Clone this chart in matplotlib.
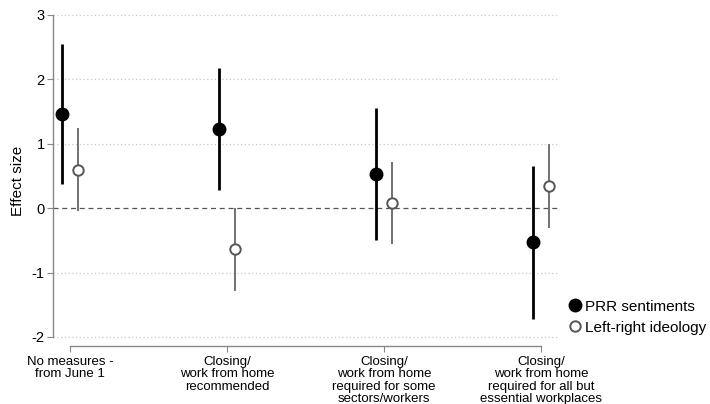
import matplotlib.pyplot as plt
import numpy as np

plt.rcParams["font.family"] = ["Liberation Sans", "DejaVu Sans"]

categories = [
    "No measures -\nfrom June 1",
    "Closing/\nwork from home\nrecommended",
    "Closing/\nwork from home\nrequired for some\nsectors/workers",
    "Closing/\nwork from home\nrequired for all but\nessential workplaces",
]

prr_est = [1.46, 1.23, 0.53, -0.53]
prr_low = [0.37, 0.28, -0.49, -1.72]
prr_high = [2.55, 2.17, 1.56, 0.66]

lr_est = [0.59, -0.64, 0.08, 0.34]
lr_low = [-0.04, -1.28, -0.55, -0.31]
lr_high = [1.24, 0.01, 0.71, 0.99]

x = np.arange(1, len(categories) + 1)
offset = 0.05

fig = plt.figure(figsize=(7.1, 4.04), dpi=100)
ax = fig.add_axes([0.0746, 0.1436, 0.7114, 0.8194])

# gridlines
for yv in [-2, -1, 1, 2, 3]:
    ax.axhline(yv, color="#c8c8c8", lw=0.9, ls=(0, (1, 2)), zorder=0)
ax.axhline(0, color="#555555", lw=0.9, ls=(0, (4, 3)), zorder=1)

# confidence intervals
ax.vlines(x - offset, prr_low, prr_high, color="black", lw=2.0, zorder=2)
ax.vlines(x + offset, lr_low, lr_high, color="#666666", lw=1.3, zorder=2)

ax.plot(x - offset, prr_est, "o", ms=9, color="black", mec="black",
        ls="none", zorder=3, label="PRR sentiments")
ax.plot(x + offset, lr_est, "o", ms=7.5, mfc="white", mec="#555555",
        mew=1.4, ls="none", zorder=3, label="Left-right ideology")

ax.set_xlim(1 - 17 / 157, 4 + 17 / 157)
ax.set_ylim(-2.14, 3)

ax.spines["top"].set_visible(False)
ax.spines["right"].set_visible(False)
ax.spines["left"].set_bounds(-2, 3)
ax.spines["bottom"].set_bounds(1, 4)
for s in ["left", "bottom"]:
    ax.spines[s].set_color("#888888")
    ax.spines[s].set_linewidth(1.0)

ax.set_yticks([-2, -1, 0, 1, 2, 3])
ax.set_yticklabels(["-2", "-1", "0", "1", "2", "3"])
ax.set_xticks(x)
ax.set_xticklabels(categories, fontsize=9.5, linespacing=1.05)
ax.tick_params(axis="y", labelsize=10.5, length=4, color="#888888", pad=2)
ax.tick_params(axis="x", length=4, color="#888888", pad=3)

ax.set_ylabel("Effect size", fontsize=11, labelpad=5)

fig.legend(loc="center left", bbox_to_anchor=(0.79, 0.215), frameon=False,
           fontsize=11, handletextpad=0.2, labelspacing=0.45,
           handlelength=1.0, borderaxespad=0)

fig.savefig("out.png", dpi=100)
